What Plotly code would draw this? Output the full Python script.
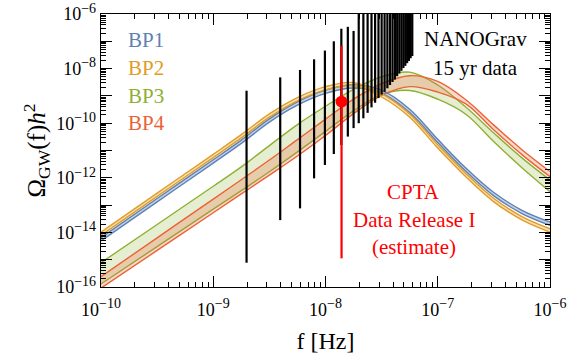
import plotly.graph_objects as go
import numpy as np

# ---------------- data ----------------
# frequency grid for the model curves [Hz]
freq_hz = [1e-10, 3.162e-10, 1e-9, 1.778e-9, 3.162e-9, 5.623e-9, 1e-8, 1.778e-8,
           3.162e-8, 5.623e-8, 1e-7, 1.778e-7, 3.162e-7, 5.623e-7, 1e-6]

# log10(Omega_GW h^2) of the band edges
bp1_hi = [-14.19, -12.76, -11.34, -10.62, -9.84, -9.22, -8.79, -8.59, -8.79, -9.49, -10.59, -11.64, -12.54, -13.19, -13.62]
bp1_lo = [-14.31, -12.88, -11.46, -10.74, -9.96, -9.34, -8.91, -8.71, -8.91, -9.61, -10.71, -11.76, -12.66, -13.31, -13.74]
bp2_hi = [-13.99, -12.56, -11.14, -10.42, -9.66, -9.06, -8.66, -8.51, -8.92, -9.66, -10.79, -11.84, -12.76, -13.42, -13.87]
bp2_lo = [-14.11, -12.68, -11.26, -10.54, -9.78, -9.18, -8.78, -8.63, -9.04, -9.78, -10.91, -11.96, -12.88, -13.54, -13.99]
bp3_a = [-15.11, -13.71, -12.31, -11.60, -10.82, -10.05, -9.38, -8.76, -8.30, -8.13, -8.60, -9.41, -10.36, -11.27, -12.08]
bp3_b = [-15.89, -14.52, -13.15, -12.47, -11.78, -11.05, -10.30, -9.55, -8.95, -8.80, -9.12, -9.67, -10.68, -11.63, -12.51]
bp4_a = [-15.62, -14.20, -12.78, -12.07, -11.35, -10.60, -9.85, -9.12, -8.55, -8.26, -8.47, -9.14, -10.07, -10.97, -11.77]
bp4_b = [-16.04, -14.66, -13.28, -12.59, -11.90, -11.20, -10.45, -9.65, -8.98, -8.66, -8.86, -9.29, -10.25, -11.15, -11.96]

# NANOGrav 15 yr: 30 frequency bins [Hz], log10 lower / upper ends of bars
ng_freq = [1.98e-9, 3.95e-9, 5.93e-9, 7.91e-9, 9.88e-9, 1.186e-8, 1.384e-8, 1.581e-8,
           1.779e-8, 1.977e-8, 2.174e-8, 2.372e-8, 2.570e-8, 2.767e-8, 2.965e-8,
           3.163e-8, 3.360e-8, 3.558e-8, 3.756e-8, 3.953e-8, 4.151e-8, 4.349e-8,
           4.546e-8, 4.744e-8, 4.942e-8, 5.139e-8, 5.337e-8, 5.535e-8, 5.732e-8, 5.930e-8]
ng_lo = [-15.11, -13.55, -13.12, -12.02, -11.53, -11.13, -10.80, -10.49, -10.18, -10.00,
         -9.82, -9.62, -9.42, -9.25, -9.08, -8.95, -8.85, -8.72, -8.60, -8.49,
         -8.40, -8.28, -8.18, -8.08, -7.98, -7.90, -7.80, -7.72, -7.62, -7.54]
ng_hi = [-8.81, -8.32, -8.05, -7.66, -7.34, -7.00, -6.54, -6.47, -6.62, -5.5,
         -5.5, -5.5, -5.5, -5.5, -5.5, -5.5, -5.5, -5.5, -5.5, -5.5,
         -5.5, -5.5, -5.5, -5.5, -5.5, -5.5, -5.5, -5.5, -5.5, -5.5]

# CPTA DR1 estimate: frequency, log10 centre, log10 upper, log10 lower
cpta_f = 1.39e-8
cpta_c = -9.21
cpta_hi = -7.16
cpta_lo = -14.95

SUP = '<sup><span style="font-size:14px">{}</span></sup>'
x_ticks = [1e-10, 1e-9, 1e-8, 1e-7, 1e-6]
x_exps = ["−10", "−9", "−8", "−7", "−6"]
x_ticktext = ["10" + SUP.format(e) for e in x_exps]
y_ticks = [1e-16, 1e-15, 1e-14, 1e-13, 1e-12, 1e-11, 1e-10, 1e-9, 1e-8, 1e-7, 1e-6]
y_exps = ["−16", "", "−14", "", "−12", "", "−10", "", "−8", "", "−6"]
y_ticktext = [("10" + SUP.format(e)) if e else "" for e in y_exps]

C_BLUE = "#5E81B5"
C_ORANGE = "#E19C24"
C_GREEN = "#8FB032"
C_RED = "#EB6235"

fig = go.Figure()

def p10(v):
    return [10.0 ** t for t in v]

def band(hi, lo, color, fill, width=1.4):
    fig.add_trace(go.Scatter(x=freq_hz, y=p10(hi), mode="lines",
                             line=dict(color=color, width=width, shape="spline", smoothing=1.0),
                             showlegend=False, hoverinfo="skip"))
    fig.add_trace(go.Scatter(x=freq_hz, y=p10(lo), mode="lines", fill="tonexty", fillcolor=fill,
                             line=dict(color=color, width=width, shape="spline", smoothing=1.0),
                             showlegend=False, hoverinfo="skip"))

band(bp3_a, bp3_b, C_GREEN, "rgba(143,176,50,0.22)")
band(bp4_a, bp4_b, C_RED, "rgba(235,98,53,0.24)")
band(bp1_hi, bp1_lo, C_BLUE, "rgba(94,129,181,0.35)")
band(bp2_hi, bp2_lo, C_ORANGE, "rgba(225,156,36,0.30)")

# NANOGrav bars
bx, by = [], []
for f, lo, hi in zip(ng_freq, ng_lo, ng_hi):
    bx += [f, f, None]
    by += [10.0 ** lo, 10.0 ** hi, None]
fig.add_trace(go.Scatter(x=bx, y=by, mode="lines", line=dict(color="black", width=2.2),
                         showlegend=False, hoverinfo="skip"))

# CPTA
fig.add_trace(go.Scatter(x=[cpta_f, cpta_f], y=[10.0 ** cpta_lo, 10.0 ** cpta_hi], mode="lines",
                         line=dict(color="#FF0000", width=2.2), showlegend=False, hoverinfo="skip"))
fig.add_trace(go.Scatter(x=[cpta_f], y=[10.0 ** cpta_c], mode="markers",
                         marker=dict(color="#FF0000", size=12), showlegend=False, hoverinfo="skip"))

FONT = "Liberation Serif"
minor_x = [k * 10.0 ** n for n in range(-10, -6) for k in range(2, 10)]
minor_y = [k * 10.0 ** n for n in range(-16, -6) for k in range(2, 10)]

axis_common = dict(type="log", showgrid=False, zeroline=False, showline=True, linecolor="black",
                   linewidth=1.3, mirror="allticks", ticks="inside", ticklen=11, tickwidth=1.1,
                   tickcolor="black", tickfont=dict(family=FONT, size=18, color="black"),
                   automargin=False)

fig.update_xaxes(range=[-10, -6], tickmode="array", tickvals=x_ticks, ticktext=x_ticktext,
                 ticklabelstandoff=6,
                 minor=dict(tickmode="array", tickvals=minor_x, ticks="inside", ticklen=5,
                            tickwidth=1, tickcolor="black", showgrid=False),
                 title=dict(text="f [Hz]", font=dict(family=FONT, size=24, color="black"), standoff=13),
                 **axis_common)
fig.update_yaxes(range=[-16, -6], tickmode="array", tickvals=y_ticks, ticktext=y_ticktext,
                 minor=dict(tickmode="array", tickvals=minor_y, ticks="inside", ticklen=5,
                            tickwidth=1, tickcolor="black", showgrid=False),
                 title=dict(text="Ω<sub>GW</sub>(f)<i>h</i><sup>2</sup>",
                            font=dict(family=FONT, size=25, color="black"), standoff=3),
                 **axis_common)

ann_font = dict(family=FONT, size=21)
def txt(x, y, s, color, anchor="left"):
    fig.add_annotation(x=x, y=y, xref="paper", yref="paper", text=s, showarrow=False,
                       xanchor=anchor, yanchor="middle", font=dict(color=color, **ann_font))

txt(0.056, 0.905, "BP1", C_BLUE)
txt(0.056, 0.802, "BP2", C_ORANGE)
txt(0.056, 0.700, "BP3", C_GREEN)
txt(0.056, 0.600, "BP4", C_RED)
txt(0.835, 0.907, "NANOGrav", "black", "center")
txt(0.835, 0.804, "15 yr data", "black", "center")
txt(0.697, 0.348, "CPTA", "#FF0000", "center")
txt(0.697, 0.245, "Data Release I", "#FF0000", "center")
txt(0.697, 0.148, "(estimate)", "#FF0000", "center")

fig.update_layout(width=571, height=360, margin=dict(l=101, r=21, t=14, b=73, autoexpand=False),
                  paper_bgcolor="white", plot_bgcolor="white",
                  font=dict(family=FONT, color="black"))

fig.write_html("out.html", config={"displayModeBar": False, "staticPlot": True},
               post_script="document.body.style.margin='0px';document.body.style.padding='0px';")
